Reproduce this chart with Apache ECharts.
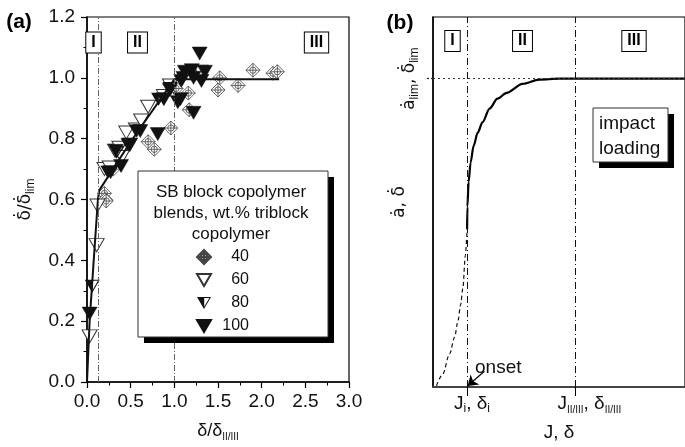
<!DOCTYPE html>
<html>
<head>
<meta charset="utf-8">
<script src="https://cdn.jsdelivr.net/npm/echarts@6/dist/echarts.min.js"></script>
<style>
  html, body { margin: 0; padding: 0; background: #fff; }
  #chart { width: 685px; height: 447px; }
</style>
</head>
<body>
<div id="chart"></div>
<script>
// ---- Panel (a): normalised crack-tip opening rate vs. normalised displacement ----
// [δ/δII/III, δ̇/δ̇lim] per blend (wt.% triblock copolymer)
const blend40 = [
  [0.20, 0.62], [0.21, 0.60], [0.22, 0.595], [0.30, 0.70], [0.70, 0.79],
  [0.77, 0.765], [0.96, 0.835], [1.02, 0.965], [1.16, 0.95], [1.17, 0.895],
  [1.50, 0.96], [1.52, 1.00], [1.73, 0.975], [1.90, 1.025], [2.13, 1.015], [2.18, 1.02]
];
const blend60 = [
  [0.03, 0.15], [0.11, 0.45], [0.12, 0.58], [0.20, 0.70], [0.26, 0.705],
  [0.32, 0.76], [0.37, 0.77], [0.40, 0.74], [0.45, 0.82], [0.49, 0.78],
  [0.56, 0.83], [0.62, 0.86], [0.70, 0.905], [0.88, 0.94], [0.95, 0.975], [1.30, 1.02]
];
const blend80 = [
  [0.06, 0.315], [0.24, 0.69], [0.34, 0.755], [0.47, 0.78], [0.57, 0.825],
  [0.82, 0.93], [0.95, 0.965], [1.10, 1.00]
];
const blend100 = [
  [0.03, 0.225], [0.27, 0.69], [0.33, 0.76], [0.39, 0.71], [0.49, 0.78],
  [0.61, 0.825], [0.81, 0.815], [0.88, 0.93], [0.95, 0.96], [1.04, 0.92],
  [1.07, 0.93], [1.08, 0.99], [1.12, 1.02], [1.20, 1.025], [1.22, 1.00],
  [1.29, 1.08], [1.31, 0.99], [1.35, 1.02], [1.22, 0.885]
];
// guide curve through all blends
const masterCurve = [
  [0, 0], [0.03, 0.2], [0.077, 0.4], [0.125, 0.6], [0.14, 0.63],
  [0.5, 0.79], [1.0, 0.995], [2.2, 0.995]
];
const regionBoundsA = [0.13, 1.0];
const blendNames = ['40', '60', '80', '100'];

// ---- Panel (b): schematic of ȧ, δ̇ vs. J, δ under impact loading ----
const onsetBranch = [
  [1.35, 0.004], [3.84, 0.041], [6.61, 0.108], [8.59, 0.162], [9.89, 0.214],
  [10.96, 0.267], [11.87, 0.321], [12.82, 0.426], [13.53, 0.512]
];
const growthBranch = [
  [13.53, 0.512], [13.65, 0.585], [14.13, 0.665], [14.92, 0.728], [16.11, 0.782],
  [17.69, 0.824], [19.67, 0.859], [22.44, 0.903], [25.6, 0.935], [29.2, 0.954],
  [35.5, 0.983], [42.2, 0.997], [50.1, 1.0], [100, 1.0]
];
const limitLevel = 1.0;
const transitionJ = [13.5, 56.5];          // J_i and J_II/III
const onsetArrow = [[20.4, 0.051], [13.7, 0.003]];

const FONT = 'Liberation Sans, Arial, Helvetica, sans-serif';
const ACCENT_FONT = 'DejaVu Sans, Liberation Sans, sans-serif';
const INK = '#111';

// marker shapes
const SYM_DIAMOND = 'path://M0,-10 L10,0 L0,10 L-10,0 Z M4.5,0 A4.5,4.5 0 1,1 -4.5,0 A4.5,4.5 0 1,1 4.5,0 Z M0,-10 L0,10 M-10,0 L10,0';
const SYM_TRI = 'path://M-10,-8 L10,-8 L0,9 Z';
const SYM_TRI_HALF = 'path://M-10,-8 L10,-8 L0,9 Z M0.3,-6.6 L0.3,5.72 L7.55,-6.6 Z';

const subRich = {
  m: { fontSize: 19, lineHeight: 22, fontFamily: FONT, color: INK },
  d: { fontSize: 17, lineHeight: 22, fontFamily: ACCENT_FONT, color: INK },
  s: { fontSize: 12, lineHeight: 12, verticalAlign: 'bottom', fontFamily: FONT, color: INK },
  ss: { fontSize: 10, lineHeight: 10, verticalAlign: 'bottom', fontFamily: FONT, color: INK },
  ja: { fontSize: 19, lineHeight: 22, fontFamily: FONT, color: INK, padding: [0, 0, 0, 10] },
  jb: { fontSize: 19, lineHeight: 22, fontFamily: FONT, color: INK, padding: [0, 0, 0, 28] }
};

function regionTag(text, cx, cy) {
  return {
    type: 'text', x: cx, y: cy, z: 10,
    style: {
      text: text, font: 'bold 16px ' + FONT, fill: '#000',
      align: 'center', verticalAlign: 'middle',
      backgroundColor: '#fff', borderColor: '#000', borderWidth: 1,
      padding: [2, 5, 2, 5]
    }
  };
}

function shadowBox(x, y, w, h, off) {
  return [
    { type: 'rect', z: 10, shape: { x: x + off, y: y + off, width: w, height: h }, style: { fill: '#000' } },
    { type: 'rect', z: 11, shape: { x: x, y: y, width: w, height: h }, style: { fill: '#fff', stroke: '#333', lineWidth: 1 } }
  ];
}

const chart = echarts.init(document.getElementById('chart'), null, { renderer: 'canvas' });

const axisLineStyle = { color: '#000', width: 1.5 };

const option = {
  animation: false,
  backgroundColor: '#fff',
  textStyle: { fontFamily: FONT },
  grid: [
    { left: 87, top: 17, width: 262, height: 369, show: true, borderColor: '#000', borderWidth: 1.2 },
    { left: 433, top: 17, width: 254, height: 377, show: true, borderColor: '#000', borderWidth: 1.2 }
  ],
  xAxis: [
    {
      type: 'value', gridIndex: 0, min: 0, max: 3, interval: 0.5,
      axisLine: { onZero: false, lineStyle: axisLineStyle },
      axisTick: { length: 6, lineStyle: { color: '#000', width: 1.2 } },
      minorTick: { show: true, splitNumber: 2, length: 3.5, lineStyle: { color: '#000', width: 1 } },
      splitLine: { show: false },
      axisLabel: { formatter: v => v.toFixed(1), fontSize: 19, color: INK, margin: 10, fontFamily: FONT },
      name: '{m|δ/δ}{ss|II/III}', nameLocation: 'middle', nameGap: 38, nameMoveOverlap: false,
      nameTextStyle: { rich: { m: { fontSize: 18, lineHeight: 22, fontFamily: FONT, color: INK }, ss: subRich.ss } }
    },
    {
      type: 'value', gridIndex: 1, min: 0, max: 100,
      axisLine: { onZero: false, lineStyle: { color: '#444', width: 2 } },
      axisTick: { show: true, customValues: transitionJ, length: 9, lineStyle: { color: '#000', width: 1 } },
      splitLine: { show: false },
      axisLabel: {
        customValues: transitionJ, margin: 6,
        formatter: v => (Math.abs(v - transitionJ[0]) < 1e-6
          ? '{ja|J}{s|i}{m|, δ}{s|i}'
          : '{jb|J}{ss|II/III}{m|, δ}{ss|II/III}'),
        rich: subRich
      },
      name: 'J, δ', nameLocation: 'middle', nameGap: 36, nameMoveOverlap: false,
      nameTextStyle: { fontSize: 19, color: INK, fontFamily: FONT }
    }
  ],
  yAxis: [
    {
      type: 'value', gridIndex: 0, min: 0, max: 1.2, interval: 0.2,
      axisLine: { onZero: false, lineStyle: axisLineStyle },
      axisTick: { length: 6, lineStyle: { color: '#000', width: 1.2 } },
      minorTick: { show: true, splitNumber: 2, length: 3.5, lineStyle: { color: '#000', width: 1 } },
      splitLine: { show: false },
      axisLabel: { formatter: v => v.toFixed(1), fontSize: 19, color: INK, margin: 12, fontFamily: FONT },
      name: '{d|δ̇/δ̇}{s|lim}', nameLocation: 'middle', nameGap: 50, nameRotate: 90, nameMoveOverlap: false,
      nameTextStyle: { rich: { d: subRich.d, s: subRich.s } }
    },
    {
      type: 'value', gridIndex: 1, min: 0, max: 1.2,
      axisLine: { onZero: false, lineStyle: { color: '#000', width: 1.5 } },
      axisTick: { show: true, customValues: [limitLevel], length: 8, lineStyle: { color: '#222', width: 1.2, type: [2, 2] } },
      splitLine: { show: false },
      axisLabel: {
        customValues: [limitLevel], rotate: 90, margin: 12,
        formatter: () => '{d|ȧ}{s|lim}{d|, δ̇}{s|lim}',
        rich: subRich
      },
      name: '{d|ȧ, δ̇}', nameLocation: 'middle', nameGap: 22, nameRotate: 90, nameMoveOverlap: false,
      nameTextStyle: { rich: { d: subRich.d } }
    }
  ],
  legend: {
    data: blendNames, orient: 'vertical', left: 196, top: 249, z: 20,
    itemWidth: 14, itemHeight: 14, itemGap: 7, padding: 0,
    formatter: n => '{v|' + n + '}',
    textStyle: { rich: { v: { width: 33, align: 'right', fontSize: 16, fontFamily: FONT, color: INK } } },
    selectedMode: false
  },
  series: [
    {
      name: '40', type: 'scatter', xAxisIndex: 0, yAxisIndex: 0, data: blend40,
      symbol: SYM_DIAMOND, symbolSize: 14, z: 2,
      itemStyle: { color: '#fff', borderColor: '#444', borderWidth: 0.8, opacity: 1 },
      markLine: {
        silent: true, symbol: 'none', label: { show: false },
        lineStyle: { color: '#666', width: 1, type: [6, 2, 1, 2] },
        data: regionBoundsA.map(v => ({ xAxis: v }))
      }
    },
    {
      name: '60', type: 'scatter', xAxisIndex: 0, yAxisIndex: 0, data: blend60,
      symbol: SYM_TRI, symbolSize: [15, 13], z: 2,
      itemStyle: { color: '#fff', borderColor: '#333', borderWidth: 1, opacity: 1 }
    },
    {
      name: '80', type: 'scatter', xAxisIndex: 0, yAxisIndex: 0, data: blend80,
      symbol: SYM_TRI_HALF, symbolSize: [15, 13], z: 2,
      itemStyle: { color: '#111', borderWidth: 0, opacity: 1 }
    },
    {
      name: '100', type: 'scatter', xAxisIndex: 0, yAxisIndex: 0, data: blend100,
      symbol: SYM_TRI, symbolSize: [15, 13], z: 2,
      itemStyle: { color: '#111', borderColor: '#111', borderWidth: 0.5, opacity: 1 }
    },
    {
      name: 'fit', type: 'line', xAxisIndex: 0, yAxisIndex: 0, data: masterCurve,
      showSymbol: false, symbol: 'none', z: 3,
      lineStyle: { color: '#111', width: 2 }
    },
    {
      name: 'onset', type: 'line', xAxisIndex: 1, yAxisIndex: 1, data: onsetBranch,
      showSymbol: false, symbol: 'none', smooth: 0.3, smoothMonotone: 'x', z: 3,
      lineStyle: { color: '#111', width: 1.2, type: [4, 3] },
      markLine: {
        silent: true, symbol: 'none', label: { show: false },
        data: [
          ...transitionJ.map(v => ({ xAxis: v, lineStyle: { color: '#111', width: 1, type: [7, 3, 1, 3] } })),
          { yAxis: limitLevel, lineStyle: { color: '#333', width: 1.2, type: [2, 3] } }
        ]
      }
    },
    {
      name: 'growth', type: 'line', xAxisIndex: 1, yAxisIndex: 1, data: growthBranch,
      showSymbol: false, symbol: 'none', smooth: 0.3, smoothMonotone: 'x', z: 4,
      lineStyle: { color: '#000', width: 2.2 },
      markLine: {
        silent: true, symbol: ['none', 'arrow'], symbolSize: 10, label: { show: false },
        lineStyle: { color: '#000', width: 1.2, type: 'solid' },
        data: [[{ coord: onsetArrow[0] }, { coord: onsetArrow[1] }]]
      }
    }
  ],
  graphic: [
    // panel tags
    { type: 'text', x: 19, y: 22, z: 10, style: { text: '(a)', font: 'bold 21px ' + FONT, fill: '#000', align: 'center', verticalAlign: 'middle' } },
    { type: 'text', x: 400, y: 23, z: 10, style: { text: '(b)', font: 'bold 21px ' + FONT, fill: '#000', align: 'center', verticalAlign: 'middle' } },
    // region tags
    regionTag('I', 93.5, 42.5), regionTag('II', 137.5, 42.5), regionTag('III', 316.5, 42.5),
    regionTag('I', 452.5, 41), regionTag('II', 522.5, 41), regionTag('III', 634, 41),
    // legend frame in panel (a)
    ...shadowBox(138, 171, 190, 166, 6),
    {
      type: 'text', x: 231, y: 182, z: 12,
      style: {
        text: 'SB block copolymer\nblends, wt.% triblock\ncopolymer',
        font: '17px ' + FONT, fill: INK, align: 'center', verticalAlign: 'top', lineHeight: 21
      }
    },
    // impact loading note in panel (b)
    ...shadowBox(593, 108, 75, 54, 6),
    {
      type: 'text', x: 599, y: 111, z: 12,
      style: { text: 'impact\nloading', font: '19px ' + FONT, fill: INK, align: 'left', verticalAlign: 'top', lineHeight: 25 }
    },
    {
      type: 'text', x: 475, y: 368, z: 12,
      style: { text: 'onset', font: '19px ' + FONT, fill: INK, align: 'left', verticalAlign: 'middle' }
    }
  ]
};

chart.setOption(option);
</script>
</body>
</html>
